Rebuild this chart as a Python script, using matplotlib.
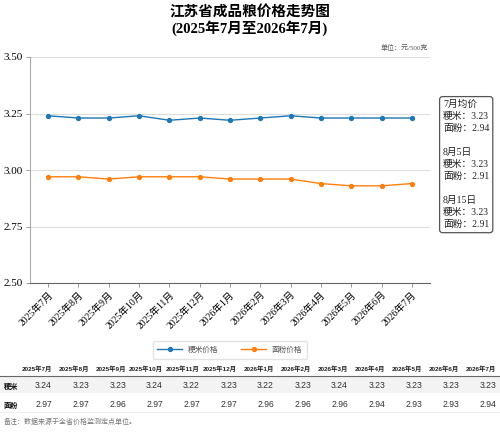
import matplotlib.pyplot as plt
import matplotlib.patches as mpatches

plt.rcParams['font.family'] = ['Liberation Serif', 'Noto Sans CJK SC']

# 数据
months = ['2025年7月', '2025年8月', '2025年9月', '2025年10月', '2025年11月', '2025年12月',
          '2026年1月', '2026年2月', '2026年3月', '2026年4月', '2026年5月', '2026年6月', '2026年7月']
rice = [3.24, 3.23, 3.23, 3.24, 3.22, 3.23, 3.22, 3.23, 3.24, 3.23, 3.23, 3.23, 3.23]
flour = [2.97, 2.97, 2.96, 2.97, 2.97, 2.97, 2.96, 2.96, 2.96, 2.94, 2.93, 2.93, 2.94]
yticks = [2.50, 2.75, 3.00, 3.25, 3.50]
note_lines = ['7月均价', '粳米：3.23', '面粉：2.94', '',
              '8月5日', '粳米：3.23', '面粉：2.91', '',
              '8月15日', '粳米：3.23', '面粉：2.91']

W, H = 500, 434
fig = plt.figure(figsize=(W / 100, H / 100), dpi=100)


def fx(px):
    return px / W


def fy(py):
    return 1 - py / H


# 标题
fig.text(0.5, fy(12), '江苏省成品粮价格走势图', ha='center', va='center',
         fontsize=10.5, fontweight='bold')
fig.text(0.5, fy(28), '(2025年7月至2026年7月)', ha='center', va='center',
         fontsize=10.5, fontweight='bold')
fig.text(fx(428), fy(47), '单位：元/500克', ha='right', va='center',
         fontsize=5, color='#555555')

# 主图
ax = fig.add_axes([fx(30), fy(283), fx(400), (283 - 57) / H])
x = list(range(len(months)))
ax.plot(x, rice, color='#1f77b4', lw=1, marker='o', ms=2.8, label='粳米价格')
ax.plot(x, flour, color='#ff7f0e', lw=1, marker='o', ms=2.8, label='面粉价格')
ax.set_xlim(-0.6, len(months) - 0.4)
ax.set_ylim(2.5, 3.5)
ax.set_yticks(yticks)
ax.set_yticklabels([f'{v:.2f}' for v in yticks], fontsize=8)
ax.set_xticks(x)
ax.set_xticklabels(months, rotation=45, ha='right', rotation_mode='anchor', fontsize=7)
ax.grid(axis='y', color='#dddddd', lw=0.8)
ax.set_axisbelow(True)
for s in ['top', 'right']:
    ax.spines[s].set_visible(False)
ax.spines['left'].set_color('#aaaaaa')
ax.spines['bottom'].set_color('#666666')
ax.tick_params(axis='both', length=3, width=0.6, color='#888888', pad=2)

# 右侧注释
fig.text(fx(443), fy(100), '\n'.join(note_lines), ha='left', va='top', fontsize=7,
         linespacing=1.42, color='#222222',
         bbox=dict(boxstyle='round,pad=0.35,rounding_size=0.3', fc='white',
                   ec='#555555', lw=0.9))

# 图例
fig.legend(loc='center', bbox_to_anchor=(0.46, fy(350)), ncol=2,
           frameon=True, edgecolor='#dddddd', handlelength=3.2, columnspacing=3,
           borderpad=0.6, labelcolor='#555555',
           prop={'family': ['Noto Sans CJK SC'], 'size': 5.5})

# 数据表
tax = fig.add_axes([0, fy(418), 1, (418 - 360) / H])
tax.set_xlim(0, W)
tax.set_ylim(418, 360)
tax.axis('off')
tax.add_patch(mpatches.Rectangle((0, 376), W, 17, fc='#f3f3f3', ec='none'))
tax.axhline(376, color='#666666', lw=0.8)
tax.axhline(412, color='#eeeeee', lw=0.8)
col_right = [52 + 37 * i for i in range(len(months))]
for xr, m, r, f in zip(col_right, months, rice, flour):
    tax.text(xr, 369, m, ha='right', va='center', fontsize=4.6, fontweight='bold',
             family=['Liberation Sans', 'Noto Sans CJK SC'], color='#222222')
    tax.text(xr, 386, f'{r:.2f}', ha='right', va='center', fontsize=6.2,
             family=['Liberation Sans'], color='#333333')
    tax.text(xr, 405, f'{f:.2f}', ha='right', va='center', fontsize=6.2,
             family=['Liberation Sans'], color='#333333')
tax.text(4, 386, '粳米', ha='left', va='center', fontsize=5.2, fontweight='bold',
         family=['Noto Sans CJK SC'], color='#111111')
tax.text(4, 405, '面粉', ha='left', va='center', fontsize=5.2, fontweight='bold',
         family=['Noto Sans CJK SC'], color='#111111')

fig.text(fx(4), fy(421), '备注：数据来源于全省价格监测定点单位。', ha='left', va='center',
         fontsize=5, color='#777777')

fig.savefig('out.png', dpi=100)
